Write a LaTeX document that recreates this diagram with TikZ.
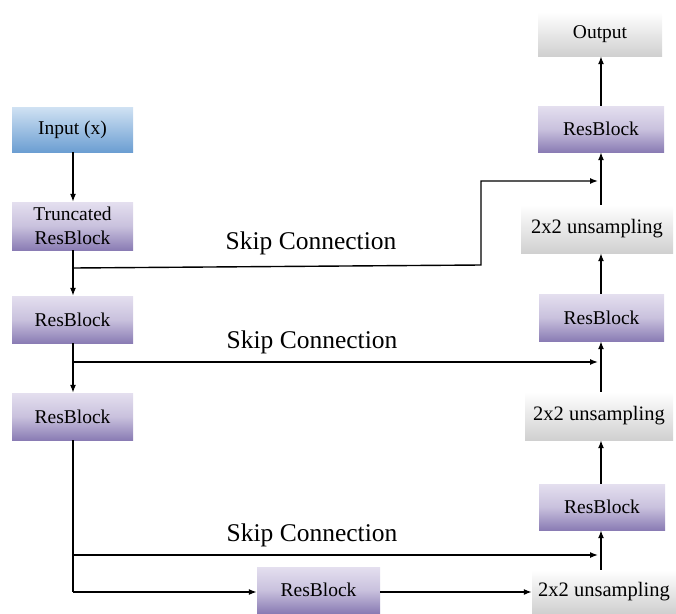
\documentclass[tikz,border=0pt]{standalone}
\usepackage{fontspec}
\setmainfont{Liberation Serif}
\usetikzlibrary{arrows.meta}
\definecolor{purpT}{RGB}{228,223,239}
\definecolor{purpB}{RGB}{138,124,180}
\definecolor{blueT}{RGB}{208,226,243}
\definecolor{blueB}{RGB}{108,158,210}
\definecolor{grayB}{RGB}{208,208,208}
\tikzset{
  blk/.style={inner sep=0pt, align=center, font=\fontsize{19.5}{24}\selectfont},
  purp/.style={blk, top color=purpT, bottom color=purpB, middle color=purpT!70!purpB},
  blu/.style={blk, top color=blueT, bottom color=blueB},
  gry/.style={blk, top color=white, bottom color=grayB, font=\fontsize{20.5}{24}\selectfont},
  arr/.style={line width=1.4pt, -{Latex[length=8pt,width=6pt]}},
  ln/.style={line width=1.4pt},
  lbl/.style={font=\fontsize{25.5}{28}\selectfont, inner sep=0pt}
}
\begin{document}
\begin{tikzpicture}[x=1pt,y=-1pt]
\useasboundingbox (0,0) rectangle (676,613);
% left column
\node[blu, minimum width=121pt, minimum height=45pt] (inp) at (72.5,129.5) {Input (x)};
\node[purp, minimum width=121pt, minimum height=48pt] (trunc) at (72.5,226) {Truncated\\ResBlock};
\node[purp, minimum width=121pt, minimum height=47pt] (rb1) at (72.5,319.5) {ResBlock};
\node[purp, minimum width=121pt, minimum height=47pt] (rb2) at (72.5,416.5) {ResBlock};
\node[purp, minimum width=123pt, minimum height=46pt] (rbb) at (318.5,590) {ResBlock};
% right column
\node[gry, minimum width=144pt, minimum height=43pt] (upb) at (604,591.5) {2x2 unsampling};
\node[purp, minimum width=126pt, minimum height=46pt] (rb3) at (602,507) {ResBlock};
\node[gry, minimum width=148pt, minimum height=48pt] (upm) at (599,416) {2x2 unsampling};
\node[purp, minimum width=125pt, minimum height=47pt] (rbm) at (601.5,317.5) {ResBlock};
\node[gry, minimum width=152pt, minimum height=48pt] (upt) at (597,229) {2x2 unsampling};
\node[purp, minimum width=126pt, minimum height=46pt] (rbt) at (601,129) {ResBlock};
\node[gry, minimum width=124pt, minimum height=44pt, font=\fontsize{19.5}{24}\selectfont] (out) at (600,34) {Output};
\coordinate (col) at (601,0);
\coordinate (lc) at (73,0);
% left vertical arrows
\draw[arr] (inp.south -| lc) -- (trunc.north -| lc);
\draw[arr] (trunc.south -| lc) -- (rb1.north -| lc);
\draw[arr] (rb1.south -| lc) -- (rb2.north -| lc);
% right vertical arrows
\draw[arr] (upb.north -| col) -- (rb3.south -| col);
\draw[arr] (rb3.north -| col) -- (upm.south -| col);
\draw[arr] (upm.north -| col) -- (rbm.south -| col);
\draw[arr] (rbm.north -| col) -- (upt.south -| col);
\draw[arr] (upt.north -| col) -- (rbt.south -| col);
\draw[arr] (rbt.north -| col) -- (out.south -| col);
% skip connections
\coordinate (s1) at (73,268);
\coordinate (s1b) at (481,265);
\coordinate (s1c) at (481,181);
\coordinate (s1e) at (598,181);
\draw[arr] (s1) -- (s1b) -- (s1c) -- (s1e);
\coordinate (s2) at (73,362);
\coordinate (s2e) at (598,362);
\draw[arr] (s2) -- (s2e);
\coordinate (s3) at (73,555);
\coordinate (s3e) at (598,555);
\draw[arr] (s3) -- (s3e);
% bottom path
\coordinate (bc) at (73,592);
\draw[ln] (rb2.south -| lc) -- (bc);
\draw[arr] (bc) -- (rbb.west |- bc);
\draw[arr] (rbb.east |- bc) -- (upb.west |- bc);
% labels
\node[lbl] (l1) at (311,243) {Skip Connection};
\node[lbl] (l2) at (312,342) {Skip Connection};
\node[lbl] (l3) at (312,535) {Skip Connection};
\end{tikzpicture}
\end{document}
